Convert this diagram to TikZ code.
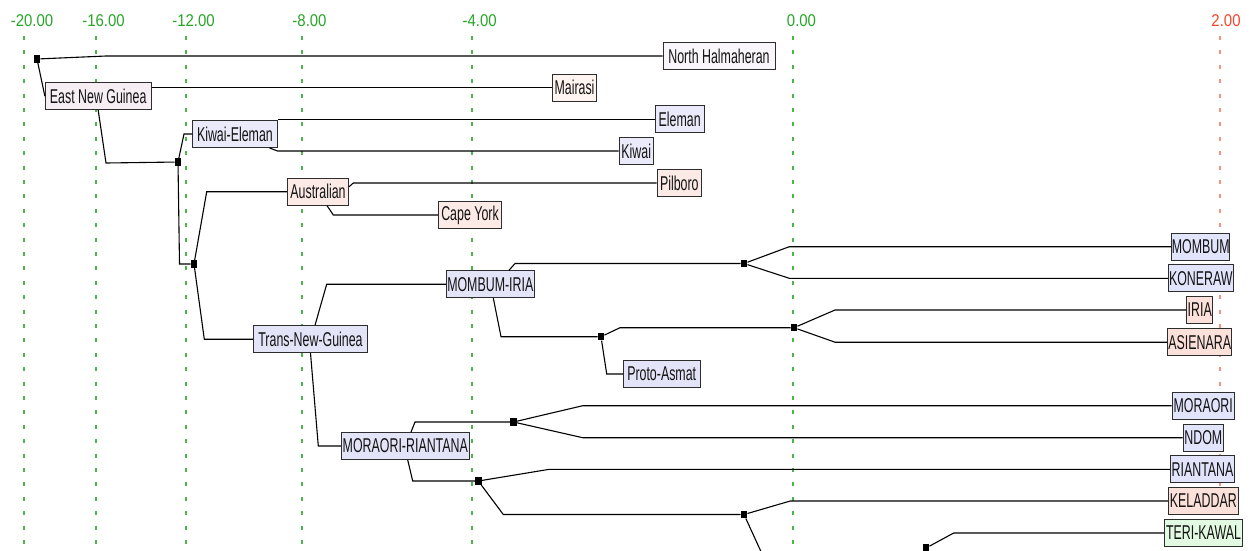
\documentclass[tikz,border=0pt]{standalone}
\usepackage{fontspec}
\setmainfont{Liberation Sans}
\newfontfamily\lblfont[FakeStretch=0.62]{Liberation Sans}
\newfontfamily\tickfont[FakeStretch=0.88]{Liberation Sans}
\definecolor{gridgreen}{RGB}{75,180,75}
\definecolor{tickgreen}{RGB}{40,165,40}
\definecolor{gridred}{RGB}{250,145,125}
\definecolor{tickred}{RGB}{245,70,45}
\definecolor{boxborder}{RGB}{45,45,45}
\definecolor{cwhite}{RGB}{248,246,250}
\definecolor{ceng}{RGB}{246,238,243}
\definecolor{cmai}{RGB}{255,244,240}
\definecolor{clav}{RGB}{234,234,250}
\definecolor{clavb}{RGB}{228,228,248}
\definecolor{clavc}{RGB}{226,228,252}
\definecolor{cpink}{RGB}{252,234,230}
\definecolor{cpinkb}{RGB}{252,225,218}
\definecolor{cgreen}{RGB}{226,250,226}
\begin{document}
\begin{tikzpicture}[x=1pt,y=-1pt,
  box/.style={draw=boxborder, line width=0.9pt, inner sep=0pt, minimum height=27pt,
    font=\lblfont\fontsize{20}{20}\selectfont, text={rgb,255:red,20;green,20;blue,20}},
  junc/.style={fill=black, draw=none, inner sep=0pt, minimum width=6.5pt, minimum height=7.5pt},
  conn/.style={line width=1.1pt, black},
  ggrid/.style={draw=gridgreen, line width=2pt, dash pattern=on 4pt off 10.4pt},
  rgrid/.style={draw=gridred, line width=2pt, dash pattern=on 4pt off 10.4pt},
  tick/.style={font=\tickfont\fontsize{17}{17}\selectfont, inner sep=0pt}]
\useasboundingbox (0,0) rectangle (1252,550);
\clip (0,0) rectangle (1252,550);
\fill[white] (0,0) rectangle (1252,550);

% grid
\draw[ggrid] (24,36) -- (24,552);
\draw[ggrid] (96,36) -- (96,552);
\draw[ggrid] (186,36) -- (186,552);
\draw[ggrid] (302,36) -- (302,552);
\draw[ggrid] (472,36) -- (472,552);
\draw[ggrid] (793,36) -- (793,552);
\draw[rgrid] (1220,36) -- (1220,552);
\node[tick,text=tickgreen] (t20) at (32,21) {-20.00};
\node[tick,text=tickgreen] (t16) at (103.5,21) {-16.00};
\node[tick,text=tickgreen] (t12) at (193.5,21) {-12.00};
\node[tick,text=tickgreen] (t8) at (309.5,21) {-8.00};
\node[tick,text=tickgreen] (t4) at (479.6,21) {-4.00};
\node[tick,text=tickgreen] (t0) at (801.5,21) {0.00};
\node[tick,text=tickred] (tp2) at (1226,21) {2.00};

% junctions
\node[junc] (R) at (37,59) {};
\node[junc] (S1) at (178,162) {};
\node[junc] (S2) at (194,264) {};
\node[junc] (S3) at (744,263.5) {};
\node[junc] (S4) at (601,336.7) {};
\node[junc] (S5) at (794,327.7) {};
\node[junc] (S6) at (513.5,422) {};
\node[junc] (S7) at (478.3,481) {};
\node[junc] (S8) at (744,514.5) {};
\node[junc] (S9) at (926,548) {};
\coordinate (down1) at (763,556);

% labelled nodes
\node[box,fill=cwhite,minimum width=112pt] (NH) at (719,56) {North Halmaheran};
\node[box,fill=ceng,minimum width=105.7pt] (ENG) at (98.2,96.2) {East New Guinea};
\node[box,fill=cmai,minimum width=44.4pt] (MAI) at (574.5,87.5) {Mairasi};
\node[box,fill=clav,minimum width=84.3pt] (KE) at (234.9,134) {Kiwai-Eleman};
\node[box,fill=clav,minimum width=48.7pt] (ELE) at (679.7,119.3) {Eleman};
\node[box,fill=clav,minimum width=34.3pt] (KIW) at (636.2,151) {Kiwai};
\node[box,fill=cpink,minimum width=61.4pt] (AUS) at (318,191.7) {Australian};
\node[box,fill=cpink,minimum width=44.7pt] (PIL) at (679.3,183) {Pilboro};
\node[box,fill=cpink,minimum width=63.4pt] (CY) at (470,215) {Cape York};
\node[box,fill=clavb,minimum width=114.4pt] (TNG) at (310.5,339.2) {Trans-New-Guinea};
\node[box,fill=clavb,minimum width=87.3pt] (MI) at (490.3,284.2) {MOMBUM-IRIA};
\node[box,fill=clavb,minimum width=76.7pt] (PA) at (661.7,374) {Proto-Asmat};
\node[box,fill=clavb,minimum width=127.3pt] (MR) at (405.3,446) {MORAORI-RIANTANA};
\node[box,fill=clavc,minimum width=57pt] (MOM) at (1200.8,246.7) {MOMBUM};
\node[box,fill=clavc,minimum width=65pt] (KON) at (1200.8,278.3) {KONERAW};
\node[box,fill=cpinkb,minimum width=26pt] (IRIA) at (1199.7,310) {IRIA};
\node[box,fill=cpinkb,minimum width=64pt] (ASI) at (1199.7,342.2) {ASIENARA};
\node[box,fill=clavc,minimum width=62.5pt] (MOR) at (1203.2,405.7) {MORAORI};
\node[box,fill=clavc,minimum width=40.5pt] (NDOM) at (1203.3,437.7) {NDOM};
\node[box,fill=clavc,minimum width=64pt] (RIA) at (1202.5,469.3) {RIANTANA};
\node[box,fill=cpinkb,minimum width=70.2pt] (KEL) at (1203.3,501) {KELADDAR};
\node[box,fill=cgreen,minimum width=78.4pt] (TK) at (1203.5,533) {TERI-KAWAL};

% connectors
\draw[conn] (R) -- (106,56) -- (NH.west);
\draw[conn] (R) -- (ENG.west);
\draw[conn] (ENG.east |- MAI.west) -- (MAI.west);
\draw[conn] (ENG.south) -- (106,163) -- (S1);
\draw[conn] (S1) -- (184,134) -- (KE.west);
\draw[conn] (S1) -- (179.5,264) -- (S2);
\draw[conn] (KE.east |- ELE.west) -- (ELE.west);
\draw[conn] ([xshift=-8pt]KE.south east) -- (KE.east |- KIW.west) -- (KIW.west);
\draw[conn] (S2) -- (206.7,191.7) -- (AUS.west);
\draw[conn] (S2) -- (204.3,339.2) -- (TNG.west);
\draw[conn] ([yshift=5pt]AUS.east) -- (353.3,183) -- (PIL.west);
\draw[conn] ([xshift=9pt]AUS.south) -- (333.3,215) -- (CY.west);
\draw[conn] ([xshift=4.5pt]TNG.north) -- (326.7,284.2) -- (MI.west);
\draw[conn] (TNG.south) -- (318.3,446) -- (MR.west);
\draw[conn] ([xshift=18.7pt]MI.north) -- (515,263.5) -- (S3);
\draw[conn] (S3) -- (789.3,246.7) -- (MOM.west);
\draw[conn] (S3) -- (789.3,278.3) -- (KON.west);
\draw[conn] ([xshift=3pt]MI.south) -- (501,336.7) -- (S4);
\draw[conn] (S4) -- (620,327.7) -- (S5);
\draw[conn] (S4) -- (606.7,374) -- (PA.west);
\draw[conn] (S5) -- (835,310) -- (IRIA.west);
\draw[conn] (S5) -- (835,342.2) -- (ASI.west);
\draw[conn] ([xshift=5.7pt]MR.north) -- (415,422) -- (S6);
\draw[conn] (S6) -- (582.7,405.7) -- (MOR.west);
\draw[conn] (S6) -- (582.7,437.7) -- (NDOM.west);
\draw[conn] ([xshift=2.4pt]MR.south) -- (412.7,481) -- (S7);
\draw[conn] (S7) -- (549.3,469.3) -- (RIA.west);
\draw[conn] (S7) -- (503.3,514.5) -- (S8);
\draw[conn] (S8) -- (790.2,501) -- (KEL.west);
\draw[conn] (S8) -- (down1);
\draw[conn] (S9) -- (953.7,533) -- (TK.west);
\end{tikzpicture}
\end{document}
